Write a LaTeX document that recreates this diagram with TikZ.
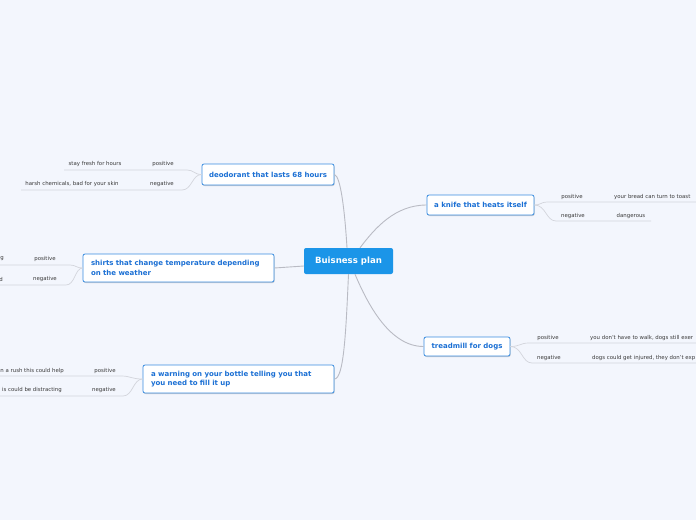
\documentclass[tikz,border=0pt]{standalone}
\usepackage{fontspec}
\setmainfont{DejaVu Sans}
\usepackage{xcolor}
\usepackage{tikz}
\usetikzlibrary{calc,shadows}
\definecolor{bgcol}{HTML}{F3F6FD}
\definecolor{rootcol}{HTML}{1B95E8}
\definecolor{boxline}{HTML}{3A8DE0}
\definecolor{boxtext}{HTML}{1A6FD4}
\definecolor{linkcol}{HTML}{B9BBC4}
\definecolor{leafcol}{HTML}{D3D5DC}
\definecolor{leaftext}{HTML}{3A3A3A}
\tikzset{
  root/.style={fill=rootcol, text=white, rounded corners=2pt, font=\bfseries\fontsize{8.6}{10}\selectfont, minimum width=89pt, minimum height=26pt, inner sep=0pt},
  topic/.style={draw=boxline, line width=0.8pt, fill=white, text=boxtext, rounded corners=2pt, font=\bfseries\fontsize{7}{9.5}\selectfont, inner sep=0pt, drop shadow={shadow xshift=0.6pt, shadow yshift=-1pt, opacity=0.35, fill=gray}},
  wide/.style={topic, text width=175pt, align=left, minimum height=28pt, inner xsep=8pt},
  leaf/.style={text=leaftext, font=\fontsize{5.4}{6}\selectfont, inner sep=0pt, yshift=-1pt},
  link/.style={draw=linkcol, line width=0.9pt},
  under/.style={draw=leafcol, line width=0.7pt}
}

\begin{document}
\begin{tikzpicture}[x=1pt,y=-1pt]
\fill[bgcol] (0,0) rectangle (696,520);
\useasboundingbox (0,0) rectangle (696,520);
\clip (0,0) rectangle (696,520);

\node[root] (plan) at (348.5,261) {Buisness plan};
\node[topic, minimum width=132pt, minimum height=21pt] (deo) at (268,174.5) {deodorant that lasts 68 hours};
\node[topic, minimum width=107pt, minimum height=20pt] (knife) at (480.5,205) {a knife that heats itself};
\node[wide] (shirts) at (178.5,268) {shirts that change temperature depending\\on the weather};
\node[wide] (bottle) at (238.5,379) {a warning on your bottle telling you that\\you need to fill it up};
\node[topic, minimum width=86pt, minimum height=19pt] (tread) at (467,346.5) {treadmill for dogs};

\draw[link] (deo.east) .. controls (341,176) and (345,215) .. ([xshift=-1.5pt]plan.north);
\draw[link] ([xshift=11.5pt]plan.north) .. controls (375,228) and (395,205) .. (knife.west);
\draw[link] ([xshift=6.5pt]plan.south) .. controls (368,305) and (390,346.5) .. (tread.west);
\draw[link] (plan.south) .. controls (346,330) and (344,379) .. (bottle.east);
\draw[link] ([yshift=-5pt]plan.west) -- (shirts.east);

\node[leaf] (deopos) at (163,163.5) {positive};
\node[leaf] (deoposd) at (95,163.5) {stay fresh for hours};
\coordinate (deoposA) at (187,170);
\coordinate (deoposB) at (64,170);
\draw[under] (deo.west) .. controls (194,174.5) and (194,170) .. (deoposA) -- (deoposB);
\node[leaf] (deoneg) at (162,183.5) {negative};
\node[leaf] (deonegd) at (72,183.5) {harsh chemicals, bad for your skin};
\coordinate (deonegA) at (182,190);
\coordinate (deonegB) at (21,190);
\draw[under] (deo.west) .. controls (192,174.5) and (192,190) .. (deonegA) -- (deonegB);

\node[leaf] (knipos) at (572,196) {positive};
\node[leaf, anchor=west] (kniposd) at (614,196) {your bread can turn to toast};
\coordinate (kniposA) at (547,202);
\coordinate (kniposB) at (700,202);
\draw[under] (knife.east) .. controls (541,205) and (541,202) .. (kniposA) -- (kniposB);
\node[leaf] (knineg) at (573,215) {negative};
\node[leaf] (kninegd) at (631,215) {dangerous};
\coordinate (kninegA) at (556,221);
\coordinate (kninegB) at (651,221);
\draw[under] (knife.east) .. controls (546,205) and (546,221) .. (kninegA) -- (kninegB);

\node[leaf] (shipos) at (45,258) {positive};
\node[leaf, anchor=east] (shiposd) at (4,258) {g};
\coordinate (shiposA) at (70,265);
\coordinate (shiposB) at (-5,265);
\draw[under] (shirts.west) .. controls (76,268) and (76,265) .. (shiposA) -- (shiposB);
\node[leaf] (shineg) at (45,278) {negative};
\node[leaf, anchor=east] (shinegd) at (3,278) {d};
\coordinate (shinegA) at (66,285);
\coordinate (shinegB) at (-5,285);
\draw[under] (shirts.west) .. controls (75,268) and (75,285) .. (shinegA) -- (shinegB);

\node[leaf] (botpos) at (105,370) {positive};
\node[leaf, anchor=east] (botposd) at (64,370) {n a rush this could help};
\coordinate (botposA) at (121,376);
\coordinate (botposB) at (-5,376);
\draw[under] (bottle.west) .. controls (131,379) and (131,376) .. (botposA) -- (botposB);
\node[leaf] (botneg) at (104,389) {negative};
\node[leaf, anchor=east] (botnegd) at (62,389) {is could be distracting};
\coordinate (botnegA) at (123,396);
\coordinate (botnegB) at (-5,396);
\draw[under] (bottle.west) .. controls (133,379) and (133,396) .. (botnegA) -- (botnegB);

\node[leaf] (trepos) at (548,337) {positive};
\node[leaf, anchor=west] (treposd) at (590,337) {you don't have to walk, dogs still exer};
\coordinate (treposA) at (529,343);
\coordinate (treposB) at (700,343);
\draw[under] (tread.east) .. controls (520,346.5) and (520,343) .. (treposA) -- (treposB);
\node[leaf] (treneg) at (549,357) {negative};
\node[leaf, anchor=west] (trenegd) at (592,357) {dogs could get injured, they don't exp};
\coordinate (trenegA) at (532,363);
\coordinate (trenegB) at (700,363);
\draw[under] (tread.east) .. controls (522,346.5) and (522,363) .. (trenegA) -- (trenegB);
\end{tikzpicture}
\end{document}
